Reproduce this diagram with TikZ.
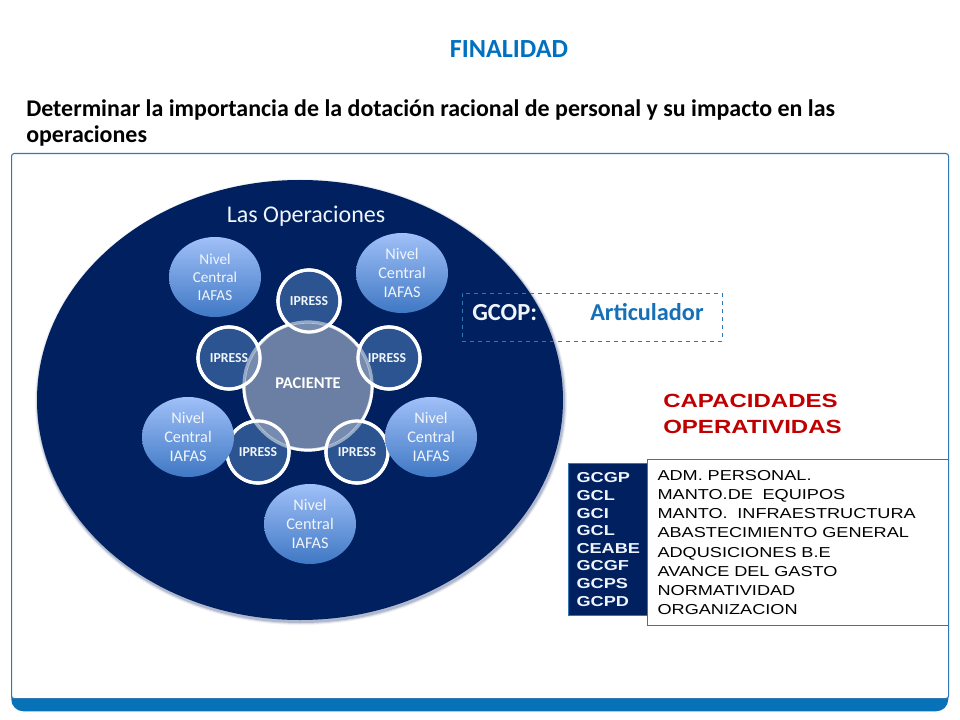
\documentclass[tikz,border=0pt]{standalone}
\usepackage{fontspec}
\setmainfont{Carlito}
\newfontfamily\widefont[FakeStretch=1.26]{Liberation Sans}
\usetikzlibrary{shapes.geometric}
\definecolor{navy}{HTML}{002060}
\definecolor{framed}{HTML}{2F78B5}
\definecolor{bandblue}{HTML}{0872B9}
\definecolor{titleblue}{HTML}{0070C0}
\definecolor{ipressblue}{HTML}{2B5490}
\definecolor{pacienteblue}{HTML}{8A9BB8}
\definecolor{gcopblue}{HTML}{1570B8}
\definecolor{capred}{HTML}{C00000}
\definecolor{palewhite}{HTML}{F0F5FB}
\definecolor{nivtop}{HTML}{A0C0F8}
\definecolor{nivmid}{HTML}{7CA6E6}
\definecolor{nivbot}{HTML}{3F78C4}
\tikzset{
  nivel/.style={ellipse,inner sep=0pt,minimum width=92*0.75pt,minimum height=80*0.75pt,align=center,
    text=palewhite,font=\fontsize{12.2pt}{14.3pt}\selectfont,top color=nivtop,middle color=nivmid,bottom color=nivbot},
  ipress/.style={circle,inner sep=0pt,minimum size=62*0.75pt,draw=white,line width=2.4pt,fill=ipressblue},
  ipresslabel/.style={text=palewhite,font=\fontsize{10.3pt}{12pt}\selectfont\bfseries},
}
\begin{document}
\begin{tikzpicture}[x=0.75pt,y=-0.75pt]
  \useasboundingbox (0,0) rectangle (960,720);
  \fill[white] (0,0) rectangle (960,720);
  % frame and band
  \node (band) [anchor=north west,inner sep=0pt,minimum width=937*0.75pt,minimum height=30*0.75pt,
    fill=bandblue,rounded corners=9pt] at (11,681) {};
  \node (frame) [anchor=north west,inner sep=0pt,minimum width=937*0.75pt,minimum height=545*0.75pt,
    fill=white,draw=framed,line width=0.8pt,rounded corners=2pt] at (11,153) {};
  \node (title) at (509,49) {\fontsize{19.6pt}{22pt}\selectfont\bfseries\textcolor{titleblue}{FINALIDAD}};
  \node (purpose) [anchor=north west,inner sep=0pt,align=left,font=\fontsize{17.95pt}{19.6pt}\selectfont\bfseries] at (26,99)
    {Determinar la importancia de la dotación racional de personal y su impacto en las\\operaciones};
  % big ellipse
  \foreach \r/\o in {3/0.06,2/0.1,1/0.18}
    \fill[navy,opacity=\o] (301,402) ellipse ({263+\r} and {220+\r});
  \node (operaciones) [ellipse,inner sep=0pt,minimum width=526*0.75pt,minimum height=440*0.75pt,fill=navy] at (300,400) {};
  \node (lasop) at (306,216) {\fontsize{18pt}{20pt}\selectfont\textcolor{palewhite}{Las Operaciones}};
  % center and ipress
  \def\cx{308}
  \def\cy{386}
  \draw[white,line width=2.4pt] (\cx,\cy) circle (64);
  \node (ip1) [ipress] at (309,301) {};
  \node (ip2) [ipress] at (389,358) {};
  \node (ip3) [ipress] at (357,452) {};
  \node (ip4) [ipress] at (258,452) {};
  \node (ip5) [ipress] at (229,358) {};
  \fill[pacienteblue,opacity=0.78] (\cx,\cy) circle (63);
  \draw[white,opacity=0.5,line width=2.4pt] (\cx,\cy) circle (64);
  \foreach \n in {ip1,ip2,ip3,ip4,ip5}
    \draw[white,line width=2.4pt] (\n) circle (31);
  \node (paciente) [font=\fontsize{12.3pt}{14pt}\selectfont\bfseries,text=white] at (308,383) {PACIENTE};
  \node [ipresslabel] at (ip1) {IPRESS};
  \node [ipresslabel] at (387,358) {IPRESS};
  \node [ipresslabel] at (357,452) {IPRESS};
  \node [ipresslabel] at (258,452) {IPRESS};
  \node [ipresslabel] at (229,358) {IPRESS};
  % nivel central
  \node (niv1) [nivel,font=\fontsize{11.4pt}{13.4pt}\selectfont] at (215,277) {Nivel\\Central\\IAFAS};
  \node (niv2) [nivel] at (402,273) {Nivel\\Central\\IAFAS};
  \node (niv3) [nivel] at (431,437) {Nivel\\Central\\IAFAS};
  \node (niv4) [nivel] at (310,524) {Nivel\\Central\\IAFAS};
  \node (niv5) [nivel] at (188,437) {Nivel\\Central\\IAFAS};
  % right side
  \node (gcop) [anchor=north west,inner sep=0pt,minimum width=260*0.75pt,minimum height=48*0.75pt,
    draw=framed,dashed,line width=0.6pt] at (462,293) {};
  \node (gcoplabel) [anchor=west,inner sep=0pt,text=palewhite,font=\fontsize{18.4pt}{20pt}\selectfont\bfseries] at (472,313) {GCOP:};
  \node (articulador) [anchor=west,inner sep=0pt,text=gcopblue,font=\fontsize{18.2pt}{20pt}\selectfont\bfseries] at (590,312) {Articulador};
  \node (capacidades) [anchor=north west,inner sep=0pt,align=left,text=capred,
    font=\widefont\fontsize{14.3pt}{19.5pt}\selectfont\bfseries] at (663,394) {CAPACIDADES\\OPERATIVIDAS};
  \node (gerencias) [anchor=north west,inner sep=0pt,minimum width=79*0.75pt,minimum height=152*0.75pt,
    fill=navy,draw=framed,line width=0.8pt,align=left,text=palewhite,
    font=\widefont\fontsize{10.8pt}{13.2pt}\selectfont\bfseries,text width=63*0.75pt] at (568,463)
    {GCGP\\GCL\\GCI\\GCL\\CEABE\\GCGF\\GCPS\\GCPD};
  \node (tareas) [anchor=north west,inner sep=0pt,minimum width=301*0.75pt,minimum height=166*0.75pt,
    fill=white,draw=framed,line width=0.8pt,align=left,
    font=\widefont\fontsize{10.8pt}{14.45pt}\selectfont,text width=281*0.75pt] at (647,459)
    {ADM. PERSONAL.\\MANTO.DE\ \ EQUIPOS\\MANTO.\ \ INFRAESTRUCTURA\\ABASTECIMIENTO GENERAL\\ADQUSICIONES B.E\\AVANCE DEL GASTO\\NORMATIVIDAD\\ORGANIZACION};
\end{tikzpicture}
\end{document}
